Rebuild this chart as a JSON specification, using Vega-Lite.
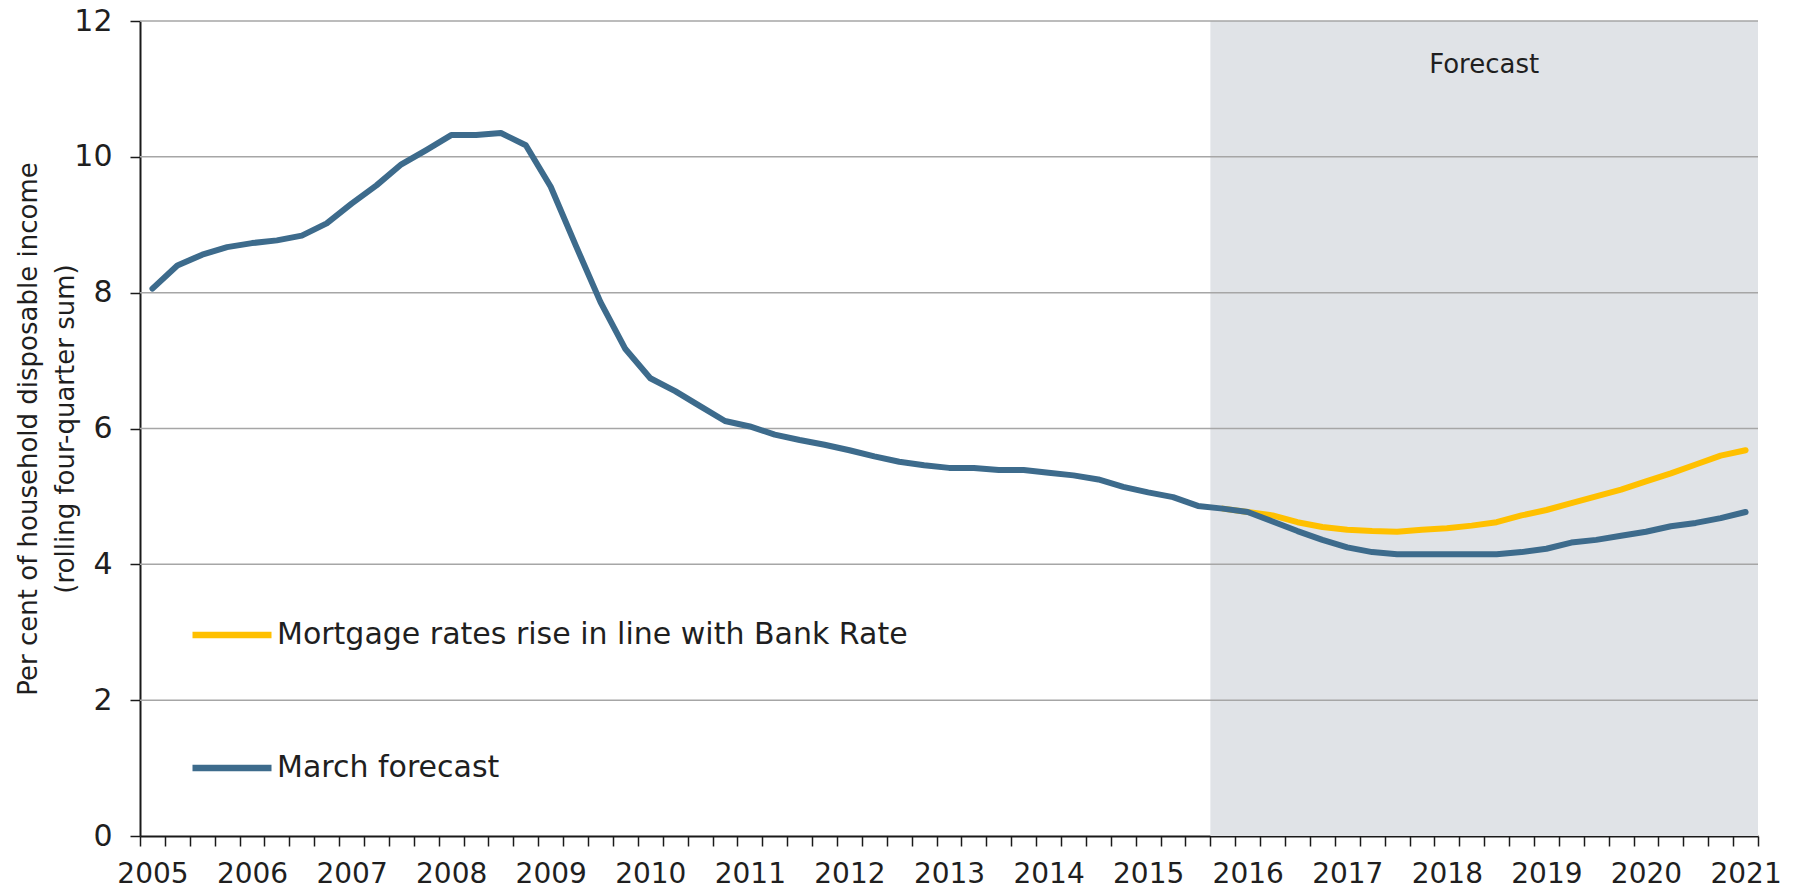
{
  "$schema": "https://vega.github.io/schema/vega-lite/v6.json",
  "width": 1618,
  "height": 815,
  "autosize": {"type": "none"},
  "padding": {"left": 140, "top": 21, "right": 38, "bottom": 53},
  "background": "white",
  "config": {
    "view": {"stroke": null},
    "font": "DejaVu Sans",
    "text": {"font": "DejaVu Sans"}
  },
  "datasets": {
    "shade": [{"date": 2015.75, "end": 2021.25, "value": 0, "hi": 12}],
    "grid": [
      {"date": 2005, "end": 2021.25, "value": 2},
      {"date": 2005, "end": 2021.25, "value": 4},
      {"date": 2005, "end": 2021.25, "value": 6},
      {"date": 2005, "end": 2021.25, "value": 8},
      {"date": 2005, "end": 2021.25, "value": 10},
      {"date": 2005, "end": 2021.25, "value": 12}
    ],
    "mortgage": [
      {"date": 2015.875, "series": "Mortgage rates rise in line with Bank Rate", "value": 4.82},
      {"date": 2016.125, "series": "Mortgage rates rise in line with Bank Rate", "value": 4.77},
      {"date": 2016.375, "series": "Mortgage rates rise in line with Bank Rate", "value": 4.72},
      {"date": 2016.625, "series": "Mortgage rates rise in line with Bank Rate", "value": 4.62},
      {"date": 2016.875, "series": "Mortgage rates rise in line with Bank Rate", "value": 4.55},
      {"date": 2017.125, "series": "Mortgage rates rise in line with Bank Rate", "value": 4.51},
      {"date": 2017.375, "series": "Mortgage rates rise in line with Bank Rate", "value": 4.49},
      {"date": 2017.625, "series": "Mortgage rates rise in line with Bank Rate", "value": 4.48},
      {"date": 2017.875, "series": "Mortgage rates rise in line with Bank Rate", "value": 4.51},
      {"date": 2018.125, "series": "Mortgage rates rise in line with Bank Rate", "value": 4.53},
      {"date": 2018.375, "series": "Mortgage rates rise in line with Bank Rate", "value": 4.57},
      {"date": 2018.625, "series": "Mortgage rates rise in line with Bank Rate", "value": 4.62},
      {"date": 2018.875, "series": "Mortgage rates rise in line with Bank Rate", "value": 4.72},
      {"date": 2019.125, "series": "Mortgage rates rise in line with Bank Rate", "value": 4.80},
      {"date": 2019.375, "series": "Mortgage rates rise in line with Bank Rate", "value": 4.90},
      {"date": 2019.625, "series": "Mortgage rates rise in line with Bank Rate", "value": 5.00},
      {"date": 2019.875, "series": "Mortgage rates rise in line with Bank Rate", "value": 5.10},
      {"date": 2020.125, "series": "Mortgage rates rise in line with Bank Rate", "value": 5.22},
      {"date": 2020.375, "series": "Mortgage rates rise in line with Bank Rate", "value": 5.34},
      {"date": 2020.625, "series": "Mortgage rates rise in line with Bank Rate", "value": 5.47},
      {"date": 2020.875, "series": "Mortgage rates rise in line with Bank Rate", "value": 5.60},
      {"date": 2021.125, "series": "Mortgage rates rise in line with Bank Rate", "value": 5.68}
    ],
    "march": [
      {"date": 2005.125, "series": "March forecast", "value": 8.06},
      {"date": 2005.375, "series": "March forecast", "value": 8.40},
      {"date": 2005.625, "series": "March forecast", "value": 8.56},
      {"date": 2005.875, "series": "March forecast", "value": 8.67},
      {"date": 2006.125, "series": "March forecast", "value": 8.73},
      {"date": 2006.375, "series": "March forecast", "value": 8.77},
      {"date": 2006.625, "series": "March forecast", "value": 8.84},
      {"date": 2006.875, "series": "March forecast", "value": 9.02},
      {"date": 2007.125, "series": "March forecast", "value": 9.31},
      {"date": 2007.375, "series": "March forecast", "value": 9.58},
      {"date": 2007.625, "series": "March forecast", "value": 9.89},
      {"date": 2007.875, "series": "March forecast", "value": 10.10},
      {"date": 2008.125, "series": "March forecast", "value": 10.32},
      {"date": 2008.375, "series": "March forecast", "value": 10.32},
      {"date": 2008.625, "series": "March forecast", "value": 10.35},
      {"date": 2008.875, "series": "March forecast", "value": 10.17},
      {"date": 2009.125, "series": "March forecast", "value": 9.56},
      {"date": 2009.375, "series": "March forecast", "value": 8.70},
      {"date": 2009.625, "series": "March forecast", "value": 7.86},
      {"date": 2009.875, "series": "March forecast", "value": 7.17},
      {"date": 2010.125, "series": "March forecast", "value": 6.74},
      {"date": 2010.375, "series": "March forecast", "value": 6.55},
      {"date": 2010.625, "series": "March forecast", "value": 6.33},
      {"date": 2010.875, "series": "March forecast", "value": 6.11},
      {"date": 2011.125, "series": "March forecast", "value": 6.03},
      {"date": 2011.375, "series": "March forecast", "value": 5.91},
      {"date": 2011.625, "series": "March forecast", "value": 5.83},
      {"date": 2011.875, "series": "March forecast", "value": 5.76},
      {"date": 2012.125, "series": "March forecast", "value": 5.68},
      {"date": 2012.375, "series": "March forecast", "value": 5.59},
      {"date": 2012.625, "series": "March forecast", "value": 5.51},
      {"date": 2012.875, "series": "March forecast", "value": 5.46},
      {"date": 2013.125, "series": "March forecast", "value": 5.42},
      {"date": 2013.375, "series": "March forecast", "value": 5.42},
      {"date": 2013.625, "series": "March forecast", "value": 5.39},
      {"date": 2013.875, "series": "March forecast", "value": 5.39},
      {"date": 2014.125, "series": "March forecast", "value": 5.35},
      {"date": 2014.375, "series": "March forecast", "value": 5.31},
      {"date": 2014.625, "series": "March forecast", "value": 5.25},
      {"date": 2014.875, "series": "March forecast", "value": 5.14},
      {"date": 2015.125, "series": "March forecast", "value": 5.06},
      {"date": 2015.375, "series": "March forecast", "value": 4.99},
      {"date": 2015.625, "series": "March forecast", "value": 4.86},
      {"date": 2015.875, "series": "March forecast", "value": 4.82},
      {"date": 2016.125, "series": "March forecast", "value": 4.77},
      {"date": 2016.375, "series": "March forecast", "value": 4.63},
      {"date": 2016.625, "series": "March forecast", "value": 4.49},
      {"date": 2016.875, "series": "March forecast", "value": 4.36},
      {"date": 2017.125, "series": "March forecast", "value": 4.25},
      {"date": 2017.375, "series": "March forecast", "value": 4.18},
      {"date": 2017.625, "series": "March forecast", "value": 4.15},
      {"date": 2017.875, "series": "March forecast", "value": 4.15},
      {"date": 2018.125, "series": "March forecast", "value": 4.15},
      {"date": 2018.375, "series": "March forecast", "value": 4.15},
      {"date": 2018.625, "series": "March forecast", "value": 4.15},
      {"date": 2018.875, "series": "March forecast", "value": 4.18},
      {"date": 2019.125, "series": "March forecast", "value": 4.23},
      {"date": 2019.375, "series": "March forecast", "value": 4.32},
      {"date": 2019.625, "series": "March forecast", "value": 4.36},
      {"date": 2019.875, "series": "March forecast", "value": 4.42},
      {"date": 2020.125, "series": "March forecast", "value": 4.48},
      {"date": 2020.375, "series": "March forecast", "value": 4.56},
      {"date": 2020.625, "series": "March forecast", "value": 4.61},
      {"date": 2020.875, "series": "March forecast", "value": 4.68},
      {"date": 2021.125, "series": "March forecast", "value": 4.77}
    ],
    "label": [{"date": 2018.5, "value": 11.35, "text": "Forecast"}]
  },
  "encoding": {
    "x": {
      "field": "date",
      "type": "quantitative",
      "title": null,
      "scale": {"domain": [2005, 2021.25], "nice": false, "zero": false},
      "axis": {
        "values": [2005, 2005.25, 2005.5, 2005.75, 2006, 2006.25, 2006.5, 2006.75, 2007, 2007.25, 2007.5, 2007.75, 2008, 2008.25, 2008.5, 2008.75, 2009, 2009.25, 2009.5, 2009.75, 2010, 2010.25, 2010.5, 2010.75, 2011, 2011.25, 2011.5, 2011.75, 2012, 2012.25, 2012.5, 2012.75, 2013, 2013.25, 2013.5, 2013.75, 2014, 2014.25, 2014.5, 2014.75, 2015, 2015.25, 2015.5, 2015.75, 2016, 2016.25, 2016.5, 2016.75, 2017, 2017.25, 2017.5, 2017.75, 2018, 2018.25, 2018.5, 2018.75, 2019, 2019.25, 2019.5, 2019.75, 2020, 2020.25, 2020.5, 2020.75, 2021, 2021.25],
        "labelExpr": "datum.value % 1 === 0 ? '' + datum.value : ''",
        "labelOffset": 12.45,
        "labelFlush": false,
        "labelOverlap": false,
        "labelBound": false,
        "labelFontSize": 28,
        "labelFont": "DejaVu Sans",
        "labelColor": "#1f1f1f",
        "labelPadding": 14,
        "tickSize": 10,
        "tickColor": "#1a1a1a",
        "tickWidth": 1.5,
        "domainColor": "#1a1a1a",
        "domainWidth": 2,
        "grid": false
      }
    },
    "y": {
      "field": "value",
      "type": "quantitative",
      "scale": {"domain": [0, 12], "nice": false},
      "axis": {
        "values": [0, 2, 4, 6, 8, 10, 12],
        "grid": false,
        "tickSize": 10,
        "tickColor": "#1a1a1a",
        "tickWidth": 1.5,
        "domainColor": "#1a1a1a",
        "domainWidth": 2,
        "labelPadding": 18,
        "labelFontSize": 30,
        "labelFont": "DejaVu Sans",
        "labelColor": "#1f1f1f",
        "title": ["Per cent of household disposable income", "(rolling four-quarter sum)"],
        "titleFont": "DejaVu Sans",
        "titleFontSize": 26,
        "titleFontWeight": "normal",
        "titleColor": "#1f1f1f",
        "titlePadding": -5,
        "titleLineHeight": 37
      }
    }
  },
  "layer": [
    {
      "data": {"name": "shade"},
      "mark": {"type": "rect", "color": "#e0e3e7"},
      "encoding": {
        "x2": {"field": "end"},
        "y2": {"field": "hi"}
      }
    },
    {
      "data": {"name": "grid"},
      "mark": {"type": "rule", "color": "#a6a6a6", "strokeWidth": 1.5},
      "encoding": {
        "x2": {"field": "end"}
      }
    },
    {
      "data": {"name": "mortgage"},
      "mark": {"type": "line", "strokeWidth": 6, "strokeCap": "round", "strokeJoin": "round"},
      "encoding": {
        "color": {
          "field": "series",
          "type": "nominal",
          "scale": {"domain": ["Mortgage rates rise in line with Bank Rate", "March forecast"], "range": ["#FFC000", "#3D6B8C"]},
          "legend": {
            "orient": "none",
            "legendX": 49,
            "legendY": 571,
            "direction": "vertical",
            "title": null,
            "symbolType": "stroke",
            "symbolSize": 6241,
            "symbolStrokeWidth": 6.5,
            "labelFontSize": 30,
            "labelFont": "DejaVu Sans",
            "labelColor": "#1f1f1f",
            "labelLimit": 1000,
            "labelOffset": 2,
            "rowPadding": 75,
            "padding": 0
          }
        }
      }
    },
    {
      "data": {"name": "march"},
      "mark": {"type": "line", "strokeWidth": 6, "strokeCap": "round", "strokeJoin": "round"},
      "encoding": {
        "color": {
          "field": "series",
          "type": "nominal",
          "scale": {"domain": ["Mortgage rates rise in line with Bank Rate", "March forecast"], "range": ["#FFC000", "#3D6B8C"]}
        }
      }
    },
    {
      "data": {"name": "label"},
      "mark": {"type": "text", "fontSize": 26, "color": "#1f1f1f", "align": "center", "baseline": "middle", "font": "DejaVu Sans"},
      "encoding": {
        "text": {"field": "text"}
      }
    }
  ]
}
